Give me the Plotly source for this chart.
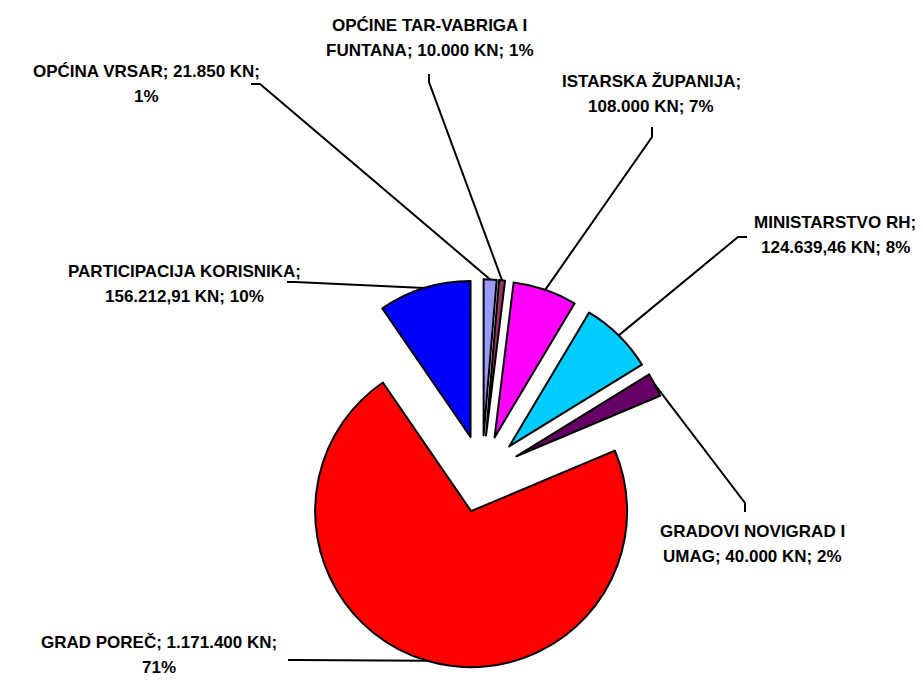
import math
import plotly.graph_objects as go

# ---- data ----
names = ["OPĆINA VRSAR", "OPĆINE TAR-VABRIGA I FUNTANA", "ISTARSKA ŽUPANIJA",
         "MINISTARSTVO RH", "GRADOVI NOVIGRAD I UMAG", "GRAD POREČ",
         "PARTICIPACIJA KORISNIKA"]
values = [21850, 10000, 108000, 124639.46, 40000, 1171400, 156212.91]
value_text = ["21.850", "10.000", "108.000", "124.639,46", "40.000", "1.171.400", "156.212,91"]
percent_text = ["1%", "1%", "7%", "8%", "2%", "71%", "10%"]
colors = ["#9999FF", "#993366", "#FF00FF", "#00CCFF", "#660066", "#FF0000", "#0000FF"]

# ---- layout parameters (pixels) ----
W, H = 923, 680
CX, CY, R, PULL = 482, 474, 156, 0.248
LINE_GAP = 25
FONT_SIZE = 17
# word index where each label wraps
wrap_at = [4, 3, 2, 2, 3, 4, 2]
# label block centres
label_pos = [(146, 84.5), (429.5, 38.5), (651, 93.5), (835, 235), (752, 543.5),
             (159, 654.5), (184.5, 284)]
# leader line start + bend points
leader_pts = [
    [(251, 84), (260, 84)],
    [(429, 74), (429, 82)],
    [(652, 127), (652, 137)],
    [(747, 237), (738, 237)],
    [(745, 512), (745, 503)],
    [(288, 660), (296, 660)],
    [(287, 282), (295, 282)],
]

FONT = "Liberation Sans, Arial, sans-serif"


def px(x):
    return x / W


def py(y):
    return 1 - y / H


half = R * (1 + PULL)
fig = go.Figure(go.Pie(
    values=values,
    labels=names,
    sort=False,
    direction="clockwise",
    rotation=0,
    pull=[PULL] * len(values),
    marker=dict(colors=colors, line=dict(color="black", width=2)),
    textinfo="none",
    hoverinfo="label+value+percent",
    showlegend=False,
    domain=dict(x=[px(CX - half), px(CX + half)], y=[py(CY + half), py(CY - half)]),
))

total = sum(values)
cum = 0.0
shapes = []
annotations = []
for i, v in enumerate(values):
    mid = 2 * math.pi * (cum + v / 2) / total
    cum += v
    sx, sy = math.sin(mid), -math.cos(mid)
    ox = CX + PULL * R * sx + R * sx
    oy = CY + PULL * R * sy + R * sy
    (ax, ay), (bx, by) = leader_pts[i]
    shapes.append(dict(
        type="path", xref="paper", yref="paper",
        path=f"M {px(ax)} {py(ay)} L {px(bx)} {py(by)} L {px(ox)} {py(oy)}",
        line=dict(color="black", width=2), layer="below",
    ))
    words = f"{names[i]}; {value_text[i]} KN; {percent_text[i]}".split(" ")
    lines = [" ".join(words[:wrap_at[i]]), " ".join(words[wrap_at[i]:])]
    lx, ly = label_pos[i]
    for k, line in enumerate(lines):
        yy = ly + (k - 0.5) * LINE_GAP
        annotations.append(dict(
            x=px(lx), y=py(yy), xref="paper", yref="paper", text=line,
            showarrow=False, xanchor="center", yanchor="middle", align="center",
            font=dict(family=FONT, size=FONT_SIZE, color="black", weight="bold"),
        ))

fig.update_layout(
    width=W, height=H, margin=dict(l=0, r=0, t=0, b=0),
    paper_bgcolor="white", plot_bgcolor="white",
    shapes=shapes, annotations=annotations,
)

fig.write_html("out.html", post_script="document.body.style.margin='0';",
               config={"displayModeBar": False})
